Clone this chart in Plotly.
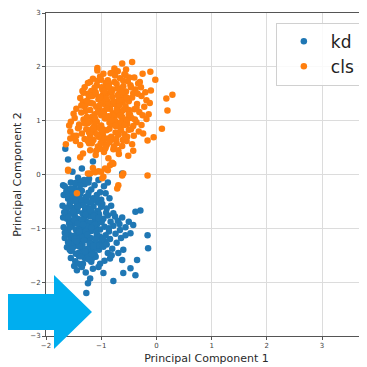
import plotly.graph_objects as go

# ---- data ----
kd_x = [-1.65, -1.6, -1.15, -1.35, -0.62, -1.69, -1.42, -1.52,
        -1.55, -1.4, -1.3, -1.22, -1.12, -1.05, -0.95, -1.48, -1.62, -1.18, -0.88,
        -1.68, -1.6, -1.52, -1.45, -1.38, -1.3, -1.23, -1.15, -1.08, -1.0, -0.92, -0.85, -1.55, -1.35,
        -1.7, -1.63, -1.57, -1.5, -1.43, -1.36, -1.29, -1.21, -1.14, -1.06, -0.98, -0.9, -0.82, -0.75, -0.78, -0.29, -0.38, -1.4, -1.18,
        -1.69, -1.62, -1.55, -1.48, -1.41, -1.34, -1.27, -1.2, -1.12, -1.04, -0.96, -0.88, -0.7, -0.62, -0.5, -1.58, -1.3,
        -1.68, -1.6, -1.53, -1.46, -1.39, -1.32, -1.25, -1.18, -1.1, -1.02, -0.94, -0.86, -0.78, -0.66, -0.56, -0.42, -1.44, -1.08,
        -1.66, -1.58, -1.51, -1.44, -1.37, -1.3, -1.23, -1.16, -1.09, -1.0, -0.92, -0.84, -0.56, -0.47, -0.16, -0.72, -0.64, -1.34,
        -1.62, -1.55, -1.48, -1.41, -1.34, -1.27, -1.2, -1.12, -1.04, -0.96, -0.88, -0.69, -0.15, -0.8, -0.6,
        -1.55, -1.47, -1.4, -1.33, -1.26, -1.18, -1.1, -1.02, -0.84, -0.62, -0.35, -0.94,
        -1.44, -1.35, -1.28, -1.2, -1.24, -1.27, -0.96, -0.78, -0.6, -0.47, -0.38, -1.15, -1.05,
        -1.5, -1.25, -1.1, -1.35, -1.2, -1.45, -1.3, -1.55, -1.15, -1.0, -1.4, -1.28, -1.62, -1.05,
        -1.58, -1.47, -1.33, -1.19, -1.07, -1.52, -1.38, -1.26, -1.13, -1.66, -1.43, -1.31, -1.17, -1.01, -1.56, -1.22,
        -1.66, -1.59, -1.51, -1.44, -1.37, -1.29, -1.21, -1.13, -1.06, -0.99,
        -1.64, -1.57, -1.49, -1.42, -1.34, -1.26, -1.19, -1.11, -1.03, -0.93,
        -1.61, -1.53, -1.46, -1.39, -1.31, -1.24, -1.16, -1.08,
        -1.57, -1.5, -1.42, -1.36, -1.28, -1.21, -1.13,
        -1.49, -1.41, -1.33, -1.25, -1.17, -0.83, -0.74, -0.67, -0.9, -0.81,
        -1.63, -1.55, -1.47, -1.39, -1.32, -1.24, -1.17, -1.09, -1.02,
        -1.67, -1.59, -1.51, -1.43, -1.35, -1.28, -1.2, -1.12, -1.05,
        -1.64, -1.56, -1.48, -1.4, -1.33, -1.25, -1.18, -1.1,
        -1.6, -1.52, -1.45, -1.37, -1.29, -1.22, -1.14, -0.97, -0.91, -0.86,
        -1.47, -1.38, -1.31, -1.23]
kd_y = [0.48, 0.28, 0.24, 0.11, 0.02, -0.2, -0.06, 0.05,
        -0.15, -0.12, -0.18, -0.08, -0.2, -0.1, -0.22, -0.25, -0.28, -0.28, -0.15,
        -0.38, -0.45, -0.33, -0.42, -0.36, -0.48, -0.34, -0.44, -0.38, -0.47, -0.35, -0.44, -0.5, -0.3,
        -0.58, -0.66, -0.55, -0.62, -0.68, -0.56, -0.64, -0.52, -0.6, -0.68, -0.55, -0.63, -0.58, -0.78, -0.72, -0.67, -0.69, -0.52, -0.7,
        -0.8, -0.74, -0.86, -0.76, -0.84, -0.72, -0.88, -0.78, -0.85, -0.74, -0.82, -0.76, -0.86, -0.8, -0.88, -0.9, -0.8,
        -0.98, -1.05, -0.94, -1.02, -0.96, -1.08, -0.98, -1.05, -0.93, -1.02, -0.97, -1.06, -0.95, -1.03, -0.98, -0.94, -1.1, -1.1,
        -1.18, -1.12, -1.24, -1.16, -1.26, -1.14, -1.22, -1.28, -1.17, -1.25, -1.13, -1.2, -1.13, -1.09, -1.13, -1.27, -1.18, -1.3,
        -1.35, -1.42, -1.33, -1.46, -1.38, -1.44, -1.36, -1.48, -1.4, -1.34, -1.46, -1.46, -1.37, -1.38, -1.4,
        -1.55, -1.61, -1.52, -1.66, -1.56, -1.62, -1.53, -1.66, -1.56, -1.59, -1.59, -1.6,
        -1.78, -1.72, -1.82, -1.93, -2.02, -2.2, -1.83, -1.98, -1.83, -1.74, -1.87, -1.75, -1.72,
        -0.7, -0.62, -0.8, -1.0, -0.9, -1.3, -1.55, -1.2, -1.4, -0.6, -0.4, -0.42, -0.82, -1.3,
        -0.6, -0.9, -1.12, -0.68, -0.92, -1.28, -1.18, -0.5, -0.72, -1.08, -0.82, -0.94, -1.33, -0.88, -0.72, -1.45,
        -0.22, -0.35, -0.41, -0.55, -0.47, -0.71, -0.63, -0.77, -0.52, -0.88,
        -0.62, -0.93, -0.85, -1.2, -1.14, -0.96, -1.18, -1.01, -1.15, -1.24,
        -1.02, -1.3, -1.47, -1.34, -1.22, -1.5, -1.55, -1.32,
        -1.4, -1.14, -0.6, -0.86, -1.06, -1.28, -0.95,
        -1.7, -1.66, -1.45, -1.38, -1.48, -0.88, -1.1, -0.92, -1.3, -1.5,
        -0.31, -0.26, -0.49, -0.29, -0.57, -0.4, -0.51, -0.45, -0.33,
        -0.7, -0.79, -0.68, -0.91, -0.83, -0.74, -0.66, -0.93, -0.81,
        -1.1, -0.98, -1.2, -1.06, -0.93, -1.12, -0.99, -1.21,
        -1.26, -1.37, -1.24, -1.52, -1.43, -1.58, -1.33, -1.18, -0.71, -1.0,
        -0.16, -0.2, -0.1, -0.15]

cls_x = [-0.44, -0.62, -1.07, -1.07, -0.8, -0.96, -0.25, -0.11, -0.7, -0.55,
         -1.15, -1.02, -0.88, -0.75, -0.66, -0.52, -0.4, -0.3, -0.02, -0.92, -0.58, -1.2, -0.83,
         -1.3, -1.18, -1.08, -0.98, -0.9, -0.81, -0.72, -0.63, -0.55, -0.47, -0.38, -0.28, -0.2, -1.24, -0.86, -0.68, -0.42, -1.12, -0.1, -0.33,
         -1.38, -1.33, -1.22, -1.15, -1.05, -0.97, -0.89, -0.8, -0.74, -0.66, -0.58, -0.5, -0.44, -0.35, -0.27, -0.18, -1.1, -0.93, -0.62, 0.29, 0.18, -0.12, -1.28,
         -1.45, -1.36, -1.3, -1.2, -1.12, -1.04, -0.95, -0.87, -0.79, -0.71, -0.63, -0.56, -0.48, -0.4, -0.31, -0.22, -0.14, -1.0, -0.84, 0.2, -1.5, -0.67, -0.25,
         -1.55, -1.48, -1.4, -1.32, -1.25, -1.17, -1.08, -1.0, -0.93, -0.85, -0.77, -0.7, -0.61, -0.53, -0.45, -0.36, -0.27, -0.18, -1.58, -1.12, -0.8, -0.42,
         -1.56, -1.5, -1.42, -1.35, -1.27, -1.2, -1.13, -1.05, -0.97, -0.9, -0.82, -0.74, -0.66, -0.58, -0.5, -0.41, -0.32, 0.1, -0.05, -0.16, -1.56, -0.24,
         -1.64, -1.46, -1.38, -1.3, -1.22, -1.14, -1.06, -0.98, -0.9, -0.8, -0.72, -0.62, -0.54, -0.44, -1.0,
         -1.33, -1.38, -1.2, -1.1, -0.95, -0.87, -0.78, -0.68, -0.51, -0.42, -1.02,
         -0.84, -0.78, -0.8, -0.93, -1.05, -1.11, -1.2, -1.24, -0.98, -0.96, -0.6, -0.62, -0.16, -1.6, -1.6, -0.69, -0.71, -1.44, -1.15, -1.0, -0.88,
         -0.9, -0.75, -1.0, -0.6, -0.85, -1.15, -0.7, -0.5, -0.95,
         -1.03, -0.86, -0.73, -0.57, -1.26, -1.17, -0.94, -0.79, -0.65, -1.09, -0.52, -0.99, -0.83, -1.21, -0.69,
         -1.32, -1.24, -1.16, -1.07, -0.99, -0.91, -0.83, -0.76, -0.68, -0.6,
         -1.28, -1.19, -1.11, -1.03, -0.95, -0.87, -0.78, -0.7, -0.62, -0.54,
         -1.4, -1.3, -1.22, -1.14, -1.05, -0.97, -0.89, -0.81, -0.73, -0.64,
         -1.17, -1.09, -1.01, -0.93, -0.85, -0.77, -0.69, -0.61, -0.53, -0.46,
         -1.45, -1.36, -0.49, -0.39, -0.34, -0.56,
         -1.26, -1.18, -1.1, -1.02, -0.94, -0.86, -0.78, -0.7, -0.62, -0.54,
         -1.22, -1.14, -1.06, -0.98, -0.9, -0.82, -0.74, -0.66, -0.58, -0.5,
         -1.34, -1.24, -1.0, -0.76, -0.6, -1.08, -0.92, -0.72, -0.46, -0.36]
cls_y = [2.09, 2.06, 1.98, 1.93, 1.89, 1.87, 1.87, 1.91, 1.92, 1.95,
         1.78, 1.82, 1.75, 1.84, 1.79, 1.73, 1.8, 1.72, 1.76, 1.7, 1.86, 1.72, 1.88,
         1.62, 1.55, 1.66, 1.58, 1.63, 1.52, 1.68, 1.6, 1.54, 1.66, 1.58, 1.62, 1.53, 1.5, 1.69, 1.5, 1.51, 1.61, 1.56, 1.69,
         1.42, 1.35, 1.45, 1.32, 1.4, 1.48, 1.36, 1.44, 1.33, 1.41, 1.47, 1.36, 1.43, 1.31, 1.46, 1.38, 1.49, 1.3, 1.34, 1.48, 1.41, 1.33, 1.3,
         1.22, 1.15, 1.27, 1.2, 1.12, 1.25, 1.18, 1.28, 1.14, 1.23, 1.17, 1.27, 1.12, 1.21, 1.16, 1.26, 1.12, 1.1, 1.22, 1.19, 1.13, 1.29, 1.1,
         0.98, 1.05, 0.93, 1.02, 0.95, 1.07, 0.98, 0.91, 1.04, 0.96, 1.06, 0.92, 1.0, 0.94, 1.05, 0.97, 0.92, 1.03, 0.91, 0.9, 1.09, 0.9,
         0.8, 0.72, 0.86, 0.76, 0.84, 0.71, 0.79, 0.87, 0.74, 0.82, 0.7, 0.78, 0.88, 0.75, 0.83, 0.72, 0.8, 0.85, 0.69, 0.63, 0.67, 0.76,
         0.56, 0.62, 0.55, 0.66, 0.58, 0.64, 0.52, 0.6, 0.55, 0.65, 0.58, 0.53, 0.62, 0.56, 0.68,
         0.39, 0.32, 0.45, 0.36, 0.42, 0.3, 0.47, 0.38, 0.35, 0.44, 0.48,
         0.17, 0.2, 0.22, 0.11, 0.06, 0.04, 0.02, 0.02, -0.07, -0.04, 0.02, -0.02, -0.02, 0.07, 0.09, -0.2, -0.26, -0.35, 0.12, 0.05, 0.08,
         1.5, 1.0, 1.35, 1.2, 0.85, 1.0, 1.6, 1.2, 0.65,
         1.15, 1.32, 1.12, 1.39, 1.07, 0.84, 1.45, 1.58, 0.97, 1.26, 1.03, 0.78, 1.55, 0.62, 0.74,
         1.52, 1.7, 1.46, 1.74, 1.62, 1.41, 1.58, 1.72, 1.38, 1.64,
         1.18, 1.33, 1.04, 1.28, 1.13, 1.08, 1.31, 1.16, 1.07, 1.0,
         0.88, 0.95, 0.78, 0.88, 0.7, 0.84, 0.67, 0.93, 0.66, 0.82,
         0.58, 0.44, 0.58, 0.48, 0.6, 0.52, 0.45, 0.64, 0.7, 0.84,
         0.72, 1.28, 1.8, 1.02, 1.5, 1.85,
         1.37, 1.46, 1.53, 1.44, 1.55, 1.63, 1.36, 1.47, 1.53, 1.43,
         0.97, 0.85, 1.16, 0.82, 1.22, 1.01, 0.9, 1.09, 0.92, 1.12,
         1.55, 0.62, 1.76, 1.97, 1.74, 0.75, 0.5, 1.2, 1.62, 1.24]

series_names = ["kd", "cls"]
series_colors = ["#1f77b4", "#ff7f0e"]

x_ticks = [-2, -1, 0, 1, 2, 3]
y_ticks = [-3, -2, -1, 0, 1, 2, 3]

fig = go.Figure()
for name, xs, ys, col in zip(series_names, [kd_x, cls_x], [kd_y, cls_y], series_colors):
    fig.add_trace(go.Scatter(x=xs, y=ys, mode="markers", name=name,
                             marker=dict(color=col, size=6.5, line=dict(width=0))))

axis_common = dict(showgrid=True, gridcolor="#dcdcdc", gridwidth=1,
                   showline=True, linecolor="#555", linewidth=1,
                   ticks="outside", ticklen=3, tickcolor="#555",
                   tickfont=dict(size=7, color="#444"), zeroline=False)

# The page body has an 8px margin, so the figure is 359x359 and offset by it.
fig.update_layout(
    width=359, height=359,
    margin=dict(l=38, r=0, t=5, b=31, autoexpand=False),
    paper_bgcolor="white", plot_bgcolor="white",
    font=dict(family="DejaVu Sans", color="#333"),
    xaxis=dict(range=[-2, 3.815], tickvals=x_ticks, mirror=True, automargin=False,
               title=dict(text="Principal Component 1", font=dict(size=11, color="#2a2a2a"), standoff=4),
               **axis_common),
    yaxis=dict(range=[-3, 3], tickvals=y_ticks, automargin=False,
               title=dict(text="Principal Component 2", font=dict(size=11, color="#2a2a2a"), standoff=6),
               **axis_common),
    legend=dict(x=0.716, y=0.97, xanchor="left", yanchor="top",
                bgcolor="rgba(255,255,255,0.85)", bordercolor="#d0d0d0", borderwidth=1,
                font=dict(size=17, color="#222"), itemwidth=44, tracegroupgap=2,
                entrywidth=110, entrywidthmode="pixels"),
    shapes=[dict(type="path", xref="paper", yref="paper", layer="above",
                 path="M -0.1215,0.130 L 0.0249,0.130 L 0.0249,0.1889 L 0.1433,0.0743 "
                      "L 0.0249,-0.0402 L 0.0249,0.0186 L -0.1215,0.0186 Z",
                 fillcolor="#00AEEF", line=dict(width=0))],
    showlegend=True,
)

fig.write_html("out.html")
